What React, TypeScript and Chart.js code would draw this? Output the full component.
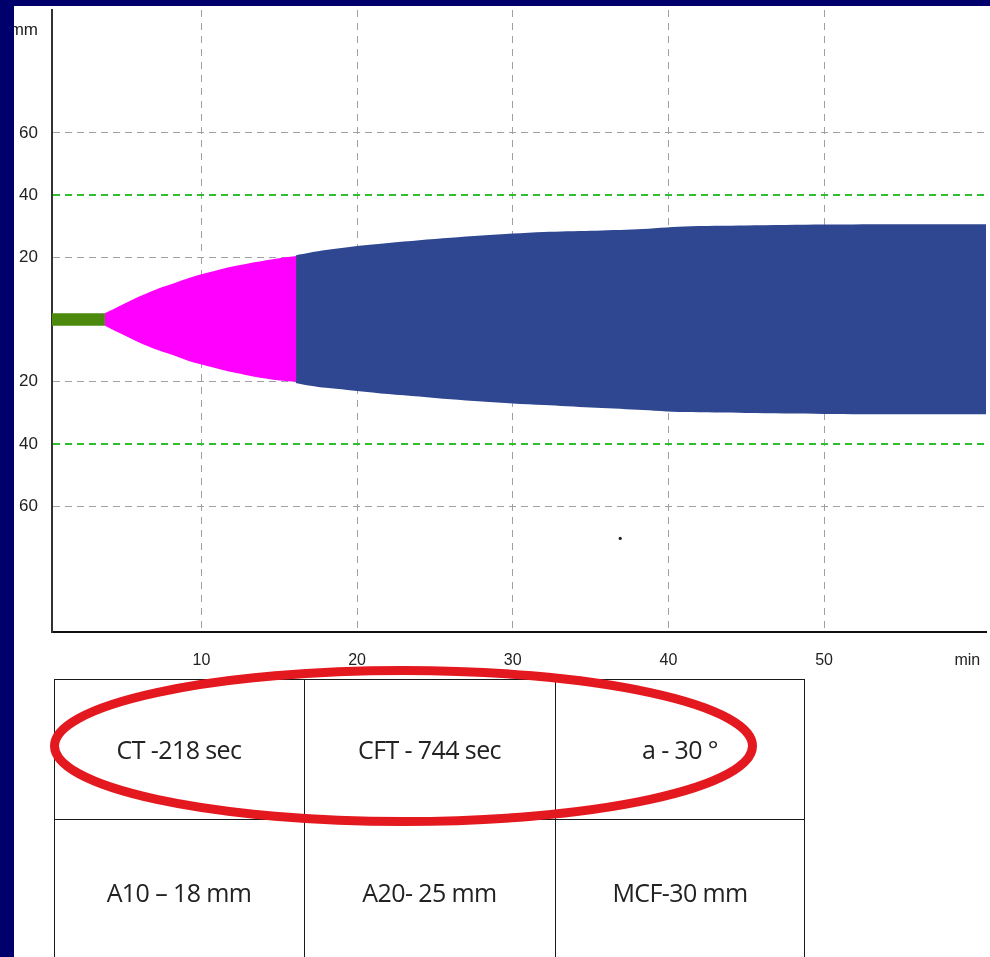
import React, { useEffect, useRef } from "react";
import { Chart, registerables } from "chart.js";

Chart.register(...registerables);

// ---- data ----
const greenTime = [0.4, 3.8];
const greenUpper = [2, 2];
const greenLower = [-2, -2];

const pinkTime = [3.8, 5, 6, 7, 8, 9, 10, 11, 12, 13, 14, 15, 16.1];
const pinkUpper = [2, 5, 7.4, 9.5, 11.2, 13, 14.5, 15.8, 17, 18, 18.9, 19.7, 20.4];
const pinkLower = [-2, -5, -7.4, -9.5, -11.2, -13, -14.5, -15.8, -17, -18, -18.9, -19.6, -20.0];

const blueTime = [16.05, 17, 18, 20, 22, 24, 26, 28, 30, 32, 35, 38, 41, 45, 50, 55, 60.4];
const blueUpper = [20.6, 21.5, 22.3, 23.6, 24.6, 25.5, 26.3, 27.0, 27.6, 28.1, 28.5, 29.0, 29.9, 30.2, 30.5, 30.6, 30.6];
const blueLower = [-20.4, -21.3, -22.0, -23.0, -24.0, -24.8, -25.7, -26.4, -27.0, -27.5, -28.3, -29.0, -29.8, -30.1, -30.4, -30.5, -30.5];

const dotPoint = [{ x: 36.9, y: -70.4 }];

const xTickValues = [10, 20, 30, 40, 50, 59.2];
const xUnitValue = 59.2;
const xUnitLabel = "min";
const yTickValues = [-60, -40, -20, 20, 40, 60, 93];
const yUnitValue = 93;
const yUnitLabel = "mm";
const greenGridValues = [40, -40];

const tableRow1 = ["CT -218 sec", "CFT - 744 sec", "a - 30 °"];
const tableRow2 = ["A10 – 18 mm", "A20- 25 mm", "MCF-30 mm"];

const pts = (t: number[], v: number[]) => t.map((x, i) => ({ x, y: v[i] }));

const yGridColors = yTickValues.map((v) =>
  v === yUnitValue ? "rgba(0,0,0,0)" : greenGridValues.includes(v) ? "#2fbf2f" : "#a0a0a0"
);
const yGridWidths = yTickValues.map((v) => (greenGridValues.includes(v) ? 2 : 1));
const xGridColors = xTickValues.map((v) => (v === xUnitValue ? "rgba(0,0,0,0)" : "#a0a0a0"));

export default function App() {
  const ref = useRef<HTMLCanvasElement>(null);

  useEffect(() => {
    if (!ref.current) return;
    const area = (label: string, color: string, t: number[], up: number[], lo: number[], tension: number) => [
      {
        label: label + " upper",
        data: pts(t, up),
        borderWidth: 0,
        borderColor: color,
        backgroundColor: color,
        pointRadius: 0,
        tension,
        fill: "+1",
      },
      {
        label: label + " lower",
        data: pts(t, lo),
        borderWidth: 0,
        borderColor: color,
        backgroundColor: color,
        pointRadius: 0,
        tension,
        fill: false,
      },
    ];
    const chart = new Chart(ref.current, {
      type: "line",
      data: {
        datasets: [
          ...area("CT", "#4b8a0c", greenTime, greenUpper, greenLower, 0),
          ...area("CFT", "#ff00ff", pinkTime, pinkUpper, pinkLower, 0.3),
          ...area("MCF", "#2f4691", blueTime, blueUpper, blueLower, 0.3),
          {
            type: "scatter",
            label: "dot",
            data: dotPoint,
            pointRadius: 1.6,
            backgroundColor: "#222",
            borderWidth: 0,
          } as any,
        ] as any,
      },
      options: {
        animation: false,
        responsive: false,
        maintainAspectRatio: false,
        layout: { padding: { top: 2, right: 0, left: 0, bottom: 0 } },
        plugins: { legend: { display: false }, tooltip: { enabled: false } },
        scales: {
          x: {
            type: "linear",
            min: 0.4,
            max: 60.4,
            afterBuildTicks: (s: any) => {
              s.ticks = xTickValues.map((v) => ({ value: v }));
            },
            afterFit: (s: any) => {
              s.height = 54;
              s.paddingLeft = 0;
              s.paddingRight = 0;
            },
            grid: {
              drawTicks: false,
              color: xGridColors,
              lineWidth: 1,
            },
            border: { display: true, color: "#111", width: 2, dash: [7, 6] },
            ticks: {
              padding: 19,
              maxRotation: 0,
              autoSkip: false,
              color: "#222",
              font: { family: "'Liberation Sans', Arial, sans-serif", size: 16 },
              callback: (v: any) => (v === xUnitValue ? xUnitLabel : String(v)),
            },
          },
          y: {
            type: "linear",
            min: -100.5,
            max: 99.5,
            afterBuildTicks: (s: any) => {
              s.ticks = yTickValues.map((v) => ({ value: v }));
            },
            afterFit: (s: any) => {
              s.width = 38;
              s.paddingTop = 0;
              s.paddingBottom = 0;
            },
            grid: {
              drawTicks: false,
              color: yGridColors,
              lineWidth: yGridWidths,
            },
            border: { display: true, color: "#333", width: 2, dash: [7, 5] },
            ticks: {
              padding: 14,
              autoSkip: false,
              color: "#222",
              font: { family: "'Liberation Sans', Arial, sans-serif", size: 17 },
              callback: (v: any) => (v === yUnitValue ? yUnitLabel : String(Math.abs(v))),
            },
          },
        },
      },
    });
    return () => chart.destroy();
  }, []);

  const colX = [54, 304, 555, 805];
  const rowY = [679, 819, 965];
  const line = "1.5px solid #1a1a1a";
  const cellText = (text: string, ci: number, ri: number) => (
    <div
      key={`${ri}-${ci}`}
      style={{
        position: "absolute",
        left: colX[ci],
        top: rowY[ri],
        width: colX[ci + 1] - colX[ci],
        height: rowY[ri + 1] - rowY[ri],
        display: "flex",
        alignItems: "center",
        justifyContent: "center",
        fontFamily: "'Open Sans', sans-serif",
        fontSize: 25,
        color: "#222",
        letterSpacing: -0.6,
      }}
    >
      {text}
    </div>
  );

  return (
    <div
      style={{
        position: "absolute",
        left: 0,
        top: 0,
        width: 990,
        height: 957,
        background: "#00006c",
        overflow: "hidden",
      }}
    >
      <div
        style={{
          position: "absolute",
          left: 14,
          top: 6,
          width: 976,
          height: 951,
          background: "#ffffff",
        }}
      />
      <canvas
        ref={ref}
        width={976}
        height={680}
        style={{ position: "absolute", left: 14, top: 6, width: 976, height: 680 }}
      />
      {/* table */}
      <div
        style={{
          position: "absolute",
          left: colX[0],
          top: rowY[0],
          width: colX[3] - colX[0],
          height: rowY[2] - rowY[0],
          border: line,
          boxSizing: "border-box",
        }}
      />
      <div style={{ position: "absolute", left: colX[1], top: rowY[0], width: 0, height: rowY[2] - rowY[0], borderLeft: line }} />
      <div style={{ position: "absolute", left: colX[2], top: rowY[0], width: 0, height: rowY[2] - rowY[0], borderLeft: line }} />
      <div style={{ position: "absolute", left: colX[0], top: rowY[1], width: colX[3] - colX[0], height: 0, borderTop: line }} />
      {tableRow1.map((t, i) => cellText(t, i, 0))}
      {tableRow2.map((t, i) => cellText(t, i, 1))}
      <svg
        width={990}
        height={957}
        style={{ position: "absolute", left: 0, top: 0, pointerEvents: "none" }}
      >
        <ellipse cx={403.5} cy={746} rx={349} ry={75.5} fill="none" stroke="#e3191f" strokeWidth={9} />
      </svg>
    </div>
  );
}
